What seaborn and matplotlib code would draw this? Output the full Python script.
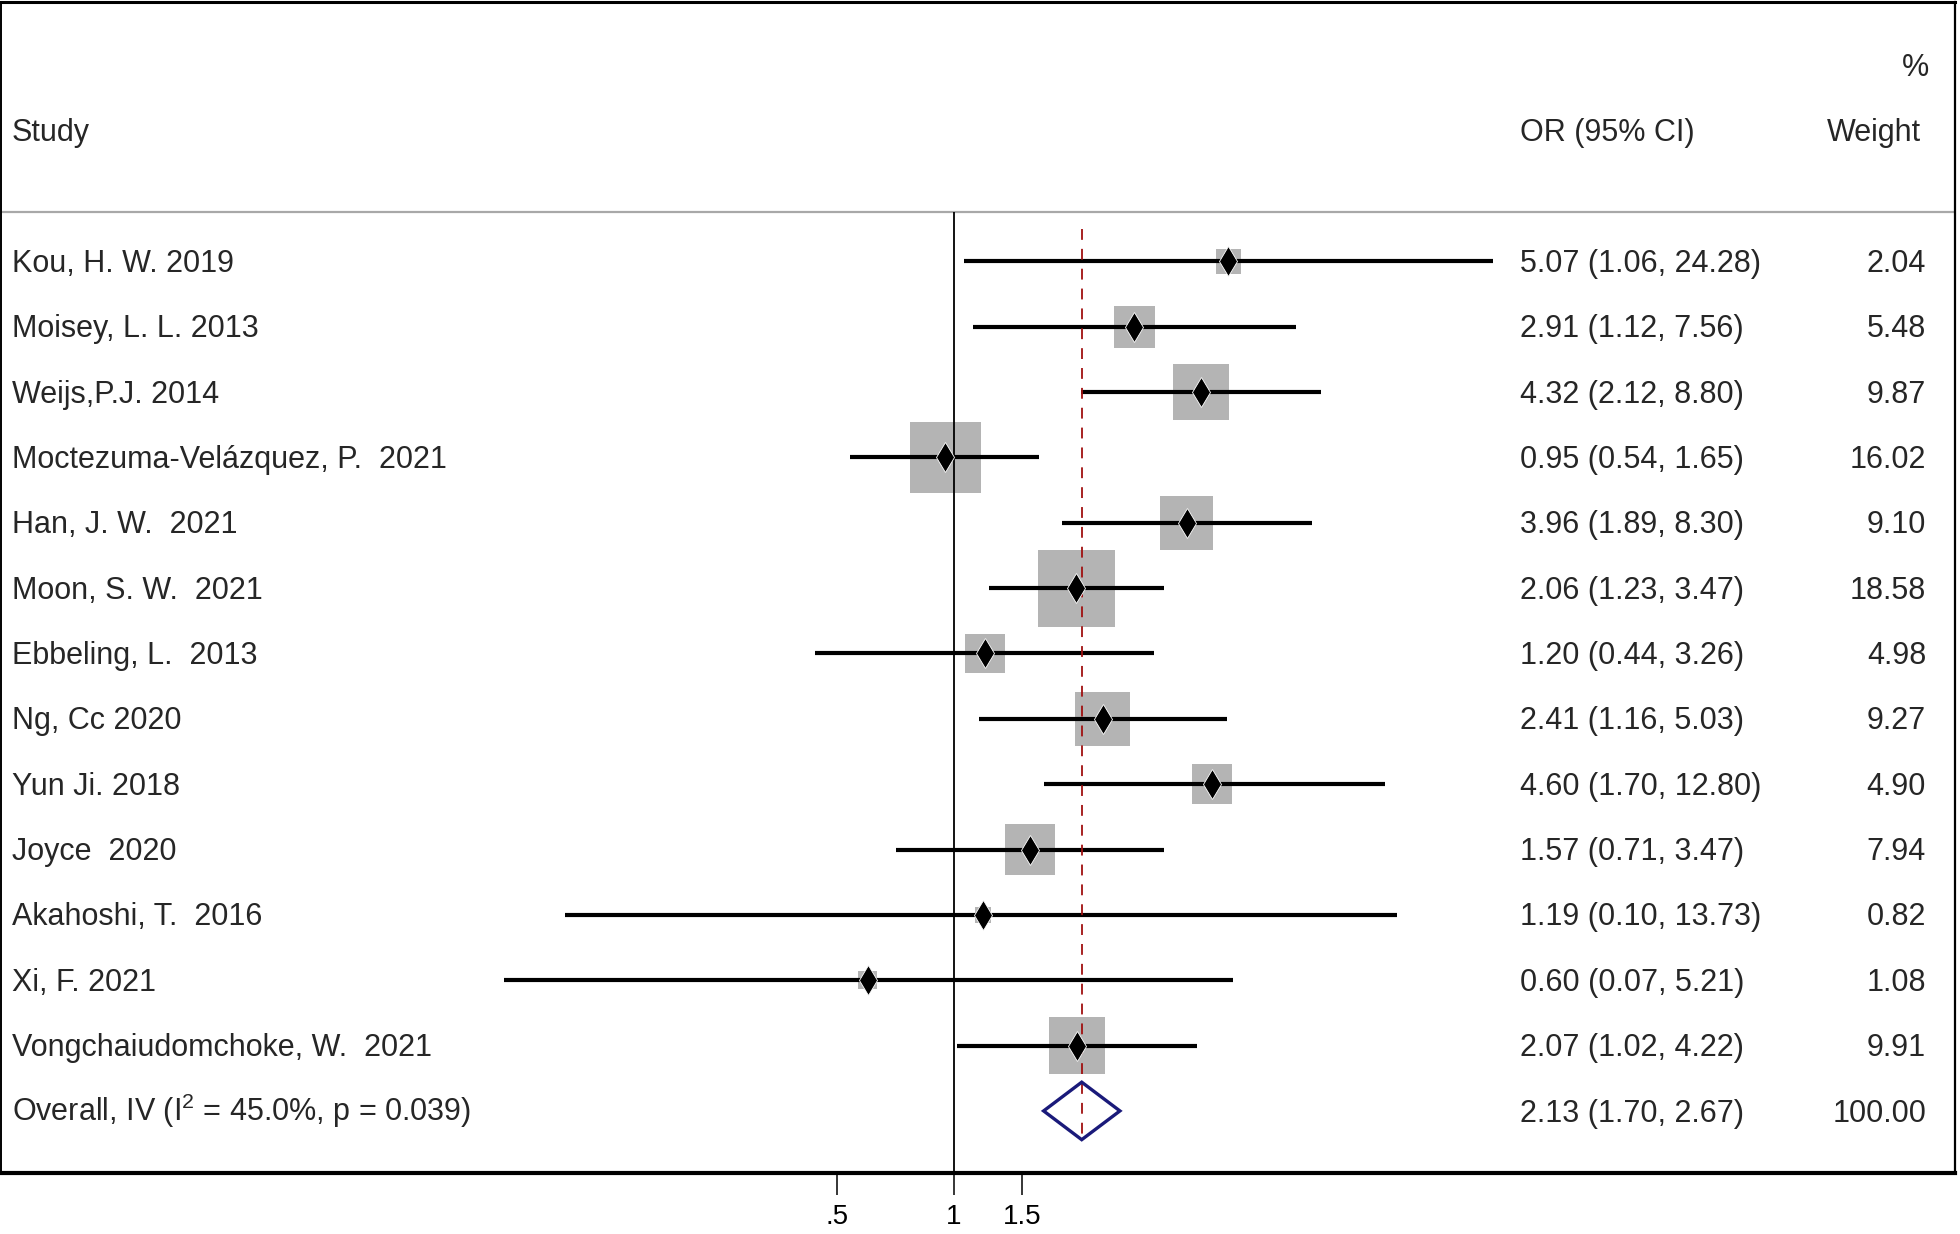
import numpy as np
import matplotlib
matplotlib.use("Agg")
import matplotlib.pyplot as plt
import seaborn as sns

# study data (odds ratios with 95% CI and % weight)
studies = ["Kou, H. W. 2019", "Moisey, L. L. 2013", "Weijs,P.J. 2014",
           "Moctezuma-Velázquez, P.  2021", "Han, J. W.  2021", "Moon, S. W.  2021",
           "Ebbeling, L.  2013", "Ng, Cc 2020", "Yun Ji. 2018", "Joyce  2020",
           "Akahoshi, T.  2016", "Xi, F. 2021", "Vongchaiudomchoke, W.  2021"]
or_est = [5.07, 2.91, 4.32, 0.95, 3.96, 2.06, 1.20, 2.41, 4.60, 1.57, 1.19, 0.60, 2.07]
ci_low = [1.06, 1.12, 2.12, 0.54, 1.89, 1.23, 0.44, 1.16, 1.70, 0.71, 0.10, 0.07, 1.02]
ci_high = [24.28, 7.56, 8.80, 1.65, 8.30, 3.47, 3.26, 5.03, 12.80, 3.47, 13.73, 5.21, 4.22]
weights = [2.04, 5.48, 9.87, 16.02, 9.10, 18.58, 4.98, 9.27, 4.90, 7.94, 0.82, 1.08, 9.91]

overall_label = "Overall, IV (I$^{2}$ = 45.0%, p = 0.039)"
overall_est, overall_low, overall_high = 2.13, 1.70, 2.67
overall_weight = "100.00"

tick_vals = [0.5, 1, 1.5]
tick_labels = [".5", "1", "1.5"]

rows = np.arange(1, len(studies) + 1)
overall_row = len(studies) + 1

sns.set_theme(style="white")
plt.rcParams["font.family"] = ["Liberation Sans", "DejaVu Sans"]
plt.rcParams["mathtext.fontset"] = "custom"
plt.rcParams["mathtext.rm"] = "Liberation Sans"
plt.rcParams["mathtext.it"] = "Liberation Sans"
fs = 22
dy = 0.04  # small downward nudge for the text rows

fig = plt.figure(figsize=(19.6, 12.34), dpi=100)
ax = fig.add_axes([1 / 1960, 1 - 1173 / 1234, 1954 / 1960, 1171 / 1234])
ax.set_xscale("log")
ax.set_xlim(0.00356, 373.5)
ax.set_ylim(14.95, -2.97)

# weight boxes (area proportional to weight)
max_w = max(weights)
sns.scatterplot(x=or_est, y=rows, size=weights, sizes=(0, 165 * max_w),
                size_norm=(0, max_w), marker="s", color="#b4b4b4",
                linewidth=0, legend=False, ax=ax, zorder=1)

# confidence intervals
ax.hlines(rows, ci_low, ci_high, color="black", lw=3, zorder=2)
ax.plot(or_est, rows, linestyle="none", marker="d", markersize=15,
        color="black", markeredgecolor="white", markeredgewidth=0.6, zorder=4)

# null line and overall effect line
ax.vlines(1, 0.25, 14.95, color="black", lw=1.3, zorder=3)
ax.vlines(overall_est, 0.5, 14.45, color="#a01010", lw=1.3,
          linestyles=(0, (6, 5)), zorder=3)

# overall diamond
h = 0.44
ax.fill([overall_low, overall_est, overall_high, overall_est],
        [overall_row, overall_row - h, overall_row, overall_row + h],
        facecolor="none", edgecolor="#1a1a7a", lw=2.4, zorder=5)

# header separator
ax.axhline(0.25, color="#a8a8a8", lw=1.6, zorder=2)

tr = ax.get_yaxis_transform()
ax.text(0.0056, -1 + dy, "Study", transform=tr, fontsize=fs, va="center", ha="left")
ax.text(0.7774, -1 + dy, "OR (95% CI)", transform=tr, fontsize=fs, va="center", ha="left")
ax.text(0.9826, -1 + dy, "Weight", transform=tr, fontsize=fs, va="center", ha="right")
ax.text(0.9866, -2 + dy, "%", transform=tr, fontsize=fs, va="center", ha="right")

for r, name, e, lo, hi, w in zip(rows, studies, or_est, ci_low, ci_high, weights):
    ax.text(0.0056, r + dy, name, transform=tr, fontsize=fs, va="center", ha="left")
    ax.text(0.7774, r + dy, f"{e:.2f} ({lo:.2f}, {hi:.2f})", transform=tr,
            fontsize=fs, va="center", ha="left")
    ax.text(0.9852, r + dy, f"{w:.2f}", transform=tr, fontsize=fs, va="center", ha="right")

ax.text(0.0056, overall_row, overall_label, transform=tr, fontsize=fs, va="center", ha="left")
ax.text(0.7774, overall_row + dy, f"{overall_est:.2f} ({overall_low:.2f}, {overall_high:.2f})",
        transform=tr, fontsize=fs, va="center", ha="left")
ax.text(0.9852, overall_row + dy, overall_weight, transform=tr, fontsize=fs, va="center", ha="right")

# axis ticks and frame
ax.set_xticks(tick_vals)
ax.set_xticklabels(tick_labels, fontsize=20)
ax.xaxis.set_minor_locator(matplotlib.ticker.NullLocator())
ax.tick_params(axis="x", direction="out", length=16, width=1.1, pad=6, bottom=True, colors="black")
ax.set_yticks([])
ax.set_xlabel("")
ax.set_ylabel("")
for side, lw in [("top", 2.2), ("bottom", 3.0), ("left", 1.4), ("right", 1.6)]:
    ax.spines[side].set_visible(True)
    ax.spines[side].set_color("black")
    ax.spines[side].set_linewidth(lw)

fig.savefig("out.png", dpi=100, facecolor="white")
